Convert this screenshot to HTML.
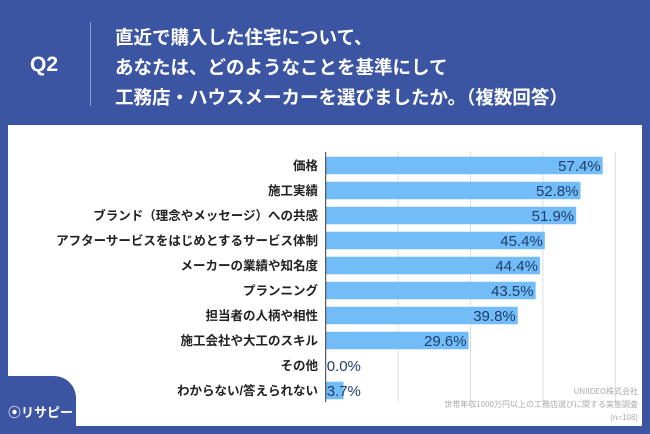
<!DOCTYPE html>
<html><head><meta charset="utf-8">
<style>
body{margin:0;width:650px;height:434px;background:#3b55a3;position:relative;overflow:hidden;font-family:"Liberation Sans","Noto Sans CJK JP",sans-serif;}
#q{position:absolute;left:30px;top:53px;color:#fff;font-size:21px;font-weight:bold}
#div{position:absolute;left:90px;top:22px;width:1px;height:84px;background:#8fa0d0}
#title{position:absolute;left:115px;top:22px;color:#fff;font-size:18.5px;font-weight:bold;line-height:30px;font-family:"Noto Sans CJK JP",sans-serif}
#panel{position:absolute;left:8px;top:125px;width:634px;height:301px;background:#fff}
#tab{position:absolute;left:0;top:376px;width:76px;height:58px;background:#3b55a3;border-top-right-radius:22px}
#logo{position:absolute;left:8px;top:402px;color:#fff;font-size:13px;font-weight:bold;font-family:"Noto Sans CJK JP",sans-serif}
#src{position:absolute;right:12px;top:385px;text-align:right;color:#aaa;font-size:8px;line-height:13px;font-family:"Noto Sans CJK JP",sans-serif}
svg{position:absolute;left:0;top:0}
</style></head><body>
<div id="q">Q2</div>
<div id="div"></div>
<div id="title">直近で購入した住宅について、<br>あなたは、どのようなことを基準にして<br>工務店・ハウスメーカーを選びましたか。（複数回答）</div>
<div id="panel"></div>
<svg id="chart" width="650" height="434"></svg>
<div id="tab"></div>
<div id="logo">⦿リサピー</div>
<div id="src">UNIIDEO株式会社<br>世帯年収1000万円以上の工務店選びに関する実態調査<br>(n=108)</div>
<script>
const categories=["価格","施工実績","ブランド（理念やメッセージ）への共感","アフターサービスをはじめとするサービス体制","メーカーの業績や知名度","プランニング","担当者の人柄や相性","施工会社や大工のスキル","その他","わからない/答えられない"];
const values=[57.4,52.8,51.9,45.4,44.4,43.5,39.8,29.6,0.0,3.7];
const gridTicks=[15,30,45,60];
const NS="http://www.w3.org/2000/svg";
const svg=document.getElementById('chart');
const x0=325.7,scale=4.826,y0=165.5,step=25,bh=17.5;
const xs=v=>x0+v*scale, ys=i=>y0+i*step;
function mk(t,a){const e=document.createElementNS(NS,t);for(const k in a)e.setAttribute(k,a[k]);svg.appendChild(e);return e;}
gridTicks.forEach(t=>{
 const g=mk('line',{x1:xs(t),x2:xs(t),y1:152,y2:402,stroke:'#ddd','stroke-width':1});
 
 
});
values.forEach((v,i)=>{
 const r=mk('rect',{x:x0,y:ys(i)-bh/2,width:v*scale,height:bh,fill:'#72bdf7'});
 
 
 const lab=mk('text',{x:318,y:ys(i)+4.5,'text-anchor':'end','font-size':12.5,'font-weight':'bold',fill:'#222'});
 lab.textContent=categories[i];
 
 
 const inside=v>10;
 const vt=mk('text',{x:inside?xs(v)-2:x0+1,y:ys(i)+5.5,'text-anchor':inside?'end':'start','font-size':15,fill:'#1f3d6d'});
 vt.textContent=v.toFixed(1)+'%';
 
 
});
const ax=mk('line',{x1:x0,x2:x0,y1:152,y2:402,stroke:'#333','stroke-width':1});


</script>
</body></html>
